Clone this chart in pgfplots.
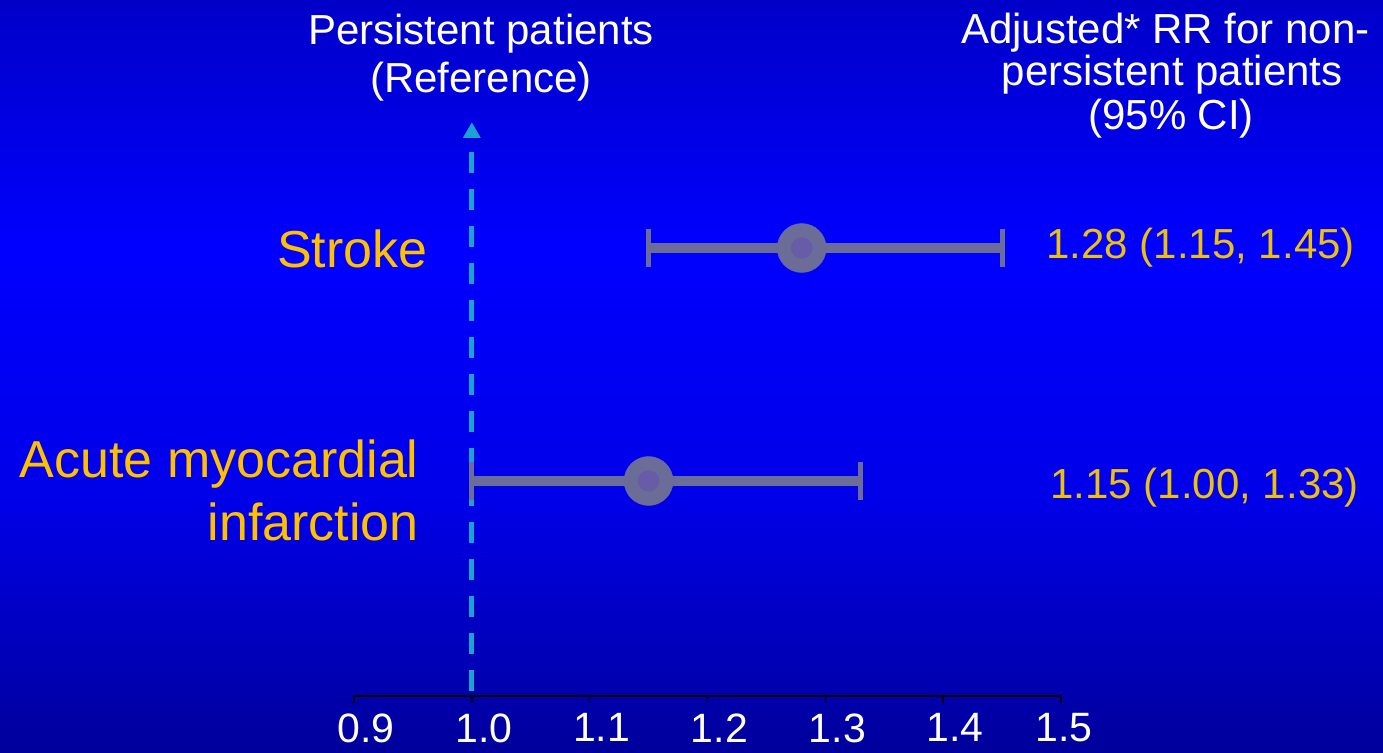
\documentclass[border=0pt]{standalone}
\usepackage{pgfplots}
\pgfplotsset{compat=1.18}
\usepackage{fontspec}
\setmainfont{Liberation Sans}
\definecolor{bgtop}{RGB}{0,0,200}
\definecolor{bgmid}{RGB}{0,0,255}
\definecolor{bglow}{RGB}{0,0,232}
\definecolor{bgbot}{RGB}{0,0,155}
\definecolor{ciline}{RGB}{108,108,152}
\definecolor{cidot}{RGB}{104,92,166}
\definecolor{refline}{RGB}{28,162,208}
\definecolor{lab}{RGB}{255,192,0}
\definecolor{val}{RGB}{236,192,16}
\pgfdeclareverticalshading{bgshade}{100bp}{color(0bp)=(bgbot); color(25bp)=(bgbot); color(41.76bp)=(bglow); color(58.38bp)=(bgmid); color(75bp)=(bgtop); color(100bp)=(bgtop)}
\newcommand{\hdr}{\fontsize{21}{25}\selectfont}
\newcommand{\tck}{\fontsize{20.5}{24}\selectfont}
\newcommand{\bigfnt}{\fontsize{26}{31}\selectfont}
\begin{document}
\begin{tikzpicture}
\shade[shading=bgshade] (0,0) rectangle (691.5pt,376pt);
\begin{axis}[
  at={(177pt,28pt)}, anchor=south west,
  scale only axis, width=353.5pt, height=293.9pt,
  xmin=0.9, xmax=1.5, ymin=0.0773, ymax=2.6,
  axis x line=bottom, axis y line=none,
  x axis line style={-, black, line width=1pt},
  xtick={0.9,1,1.1,1.2,1.3,1.4},
  xticklabels={0.9,1.0,1.1,1.2,1.3,1.4},
  extra x ticks={1.5}, extra x tick labels={1.5},
  extra x tick style={xticklabel style={xshift=-4.5pt}},
  tick align=outside, major tick length=3.5pt,
  tick style={black, line width=0.8pt},
  xticklabel style={text=white, font=\tck, xshift=6pt, yshift=-4pt, inner sep=1pt},
  clip=false]
\addplot[refline, line width=2.5pt, dash pattern=on 10.5pt off 8pt, line cap=butt] coordinates {(1,2.412) (1,0.0773)};
\addplot[refline, only marks, mark=triangle*, mark size=4.8pt, mark options={fill=refline, draw=refline, line width=0.3pt}] coordinates {(1,2.495)};
\addplot[ciline, line width=5pt, line cap=butt] coordinates {(1.15,2) (1.45,2)};
\addplot[ciline, line width=5pt, line cap=butt] coordinates {(1.00,1) (1.33,1)};
\addplot[ciline, only marks, mark=|, mark size=9.5pt, mark options={line width=2.5pt, draw=ciline}] coordinates {(1.15,2) (1.45,2) (1.00,1) (1.33,1)};
\addplot[ciline, only marks, mark=*, mark size=12.25pt, mark options={fill=ciline, draw=ciline, line width=0.2pt}] coordinates {(1.28,2) (1.15,1)};
\addplot[cidot, only marks, mark=*, mark size=5.25pt, mark options={fill=cidot, draw=cidot, line width=0.2pt}] coordinates {(1.28,2) (1.15,1)};
\node[anchor=base, text=white, font=\hdr, inner sep=0pt] at (axis cs:1.00781,2.8755) {Persistent patients};
\node[anchor=base, text=white, font=\hdr, inner sep=0pt] at (axis cs:1.00781,2.6695) {(Reference)};
\node[anchor=base, text=white, font=\hdr, inner sep=0pt] at (axis cs:1.5885,2.8798) {Adjusted* RR for non-};
\node[anchor=base, text=white, font=\hdr, inner sep=0pt] at (axis cs:1.5944,2.6953) {persistent patients};
\node[anchor=base, text=white, font=\hdr, inner sep=0pt] at (axis cs:1.5935,2.5107) {(95\% CI)};
\node[anchor=base east, text=lab, font=\bigfnt, inner sep=0pt] at (axis cs:0.9628,1.918) {Stroke};
\node[anchor=base east, text=lab, font=\bigfnt, inner sep=0pt] at (axis cs:0.9552,1.0172) {Acute myocardial};
\node[anchor=base east, text=lab, font=\bigfnt, inner sep=0pt] at (axis cs:0.9552,0.7468) {infarction};
\node[anchor=base west, text=val, font=\hdr, inner sep=0pt] at (axis cs:1.4874,1.957) {1.28 (1.15, 1.45)};
\node[anchor=base west, text=val, font=\hdr, inner sep=0pt] at (axis cs:1.4908,0.927) {1.15 (1.00, 1.33)};
\end{axis}
\pgfresetboundingbox
\path (0,0) rectangle (691.5pt,376pt);
\end{tikzpicture}
\end{document}
